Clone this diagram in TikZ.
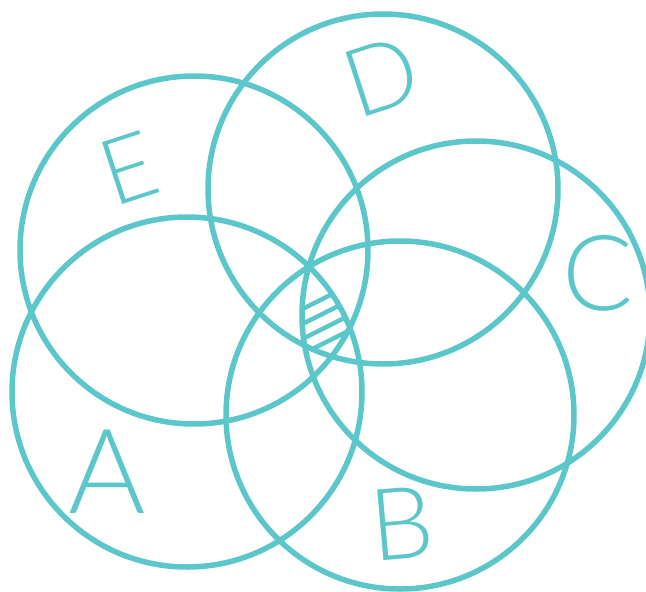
\documentclass[tikz,border=0pt]{standalone}
\usepackage{fontspec}
\newfontfamily\hand{Lato}[UprightFont=* Light]
\definecolor{teal1}{RGB}{92,199,202}
\begin{document}
\begin{tikzpicture}[x=1pt,y=-1pt,
  ring/.style={draw=teal1,line width=5.5pt},
  hatchline/.style={draw=teal1,line width=4.5pt},
  letter/.style={text=teal1,inner sep=0pt}]
\useasboundingbox (0,0) rectangle (646,592);
% hatched region: intersection of all five circles
\begin{scope}
  \clip (187,392) circle[radius=175];
  \clip (400,415) circle[radius=174];
  \clip (476,315) circle[radius=174];
  \clip (383,189) circle[radius=175];
  \clip (194,250) circle[radius=174];
  \foreach \yy in {306.7,321.7,336.7,351.7}
    \draw[hatchline] (290,{\yy+8.5}) -- (370,{\yy-31.5});
\end{scope}
% circles
\draw[ring] (194,250) circle[radius=174];
\draw[ring] (383,189) circle[radius=175];
\draw[ring] (476,315) circle[radius=174];
\draw[ring] (187,392) circle[radius=175];
\draw[ring] (400,415) circle[radius=174];
% labels
\node[letter,rotate=18,font=\hand\fontsize{92}{92}\selectfont] (lE) at (129,168) {E};
\node[letter,rotate=18,font=\hand\fontsize{95}{95}\selectfont] (lD) at (381,76) {D};
\node[letter,font=\hand\fontsize{105}{105}\selectfont] (lC) at (598,273) {C};
\node[letter,font=\hand\fontsize{118}{118}\selectfont] (lA) at (107,472) {A};
\node[letter,rotate=5,font=\hand\fontsize{100}{100}\selectfont] (lB) at (402,523) {B};
\end{tikzpicture}
\end{document}
